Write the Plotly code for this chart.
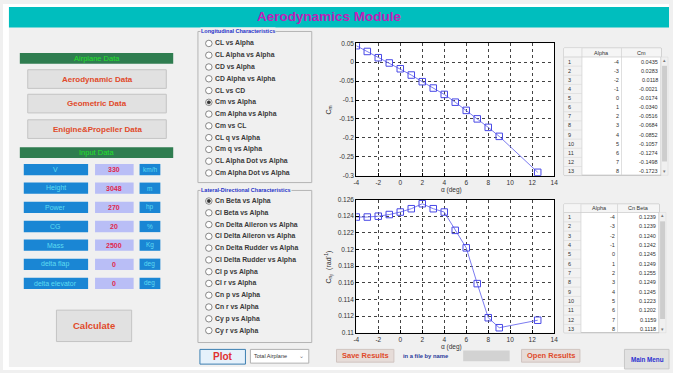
import plotly.graph_objects as go

W, H = 673, 373

# ---------------- data ----------------
alpha = [-4, -3, -2, -1, 0, 1, 2, 3, 4, 5, 6, 7, 8, 9, 12.5]
cm = [0.0435, 0.0283, 0.0118, -0.0021, -0.0174, -0.0340, -0.0516, -0.0684,
      -0.0852, -0.1057, -0.1274, -0.1498, -0.1723, -0.196, -0.291]
cn_beta = [0.1239, 0.1239, 0.1240, 0.1242, 0.1245, 0.1249, 0.1255, 0.1249,
           0.1245, 0.1223, 0.1202, 0.1159, 0.1118, 0.1106, 0.1115]

x_ticks = [-4, -2, 0, 2, 4, 6, 8, 10, 12, 14]
x_ticktext = ["-4", "-2", "0", "2", "4", "6", "8", "10", "12", "14"]
cm_ticks = [-0.3, -0.25, -0.2, -0.15, -0.1, -0.05, 0, 0.05]
cm_ticktext = ["-0.3", "-0.25", "-0.2", "-0.15", "-0.1", "-0.05", "0", "0.05"]
cn_ticks = [0.11, 0.112, 0.114, 0.116, 0.118, 0.12, 0.122, 0.124, 0.126]
cn_ticktext = ["0.11", "0.112", "0.114", "0.116", "0.118", "0.12", "0.122", "0.124", "0.126"]

input_labels = ["V", "Height", "Power", "CG", "Mass", "delta flap", "delta elevator"]
input_values = ["330", "3048", "270", "20", "2500", "0", "0"]
input_units = ["km/h", "m", "hp", "%", "Kg", "deg", "deg"]

airplane_buttons = ["Aerodynamic Data", "Geometric Data", "Enigine&Propeller Data"]

long_options = ["CL vs Alpha", "CL Alpha vs Alpha", "CD vs Alpha", "CD Alpha vs Alpha",
                "CL vs CD", "Cm vs Alpha", "Cm Alpha vs Alpha", "Cm vs CL",
                "CL q vs Alpha", "Cm q vs Alpha", "CL Alpha Dot vs Alpha",
                "Cm Alpha Dot vs Alpha"]
long_selected = "Cm vs Alpha"
lat_options = ["Cn Beta vs Alpha", "Cl Beta vs Alpha", "Cn Delta Aileron vs Alpha",
               "Cl Delta Aileron vs Alpha", "Cn Delta Rudder vs Alpha",
               "Cl Delta Rudder vs Alpha", "Cl p vs Alpha", "Cl r vs Alpha",
               "Cn p vs Alpha", "Cn r vs Alpha", "Cy p vs Alpha", "Cy r vs Alpha"]
lat_selected = "Cn Beta vs Alpha"

table_rows_shown = 13

# ---------------- helpers ----------------
FONT = "Liberation Sans, Arial, sans-serif"


def X(x):
    return x / W


def Y(y):
    return 1 - y / H


shapes = []
annotations = []


def rect(x0, y0, x1, y1, fill, line=None, lw=1):
    shapes.append(dict(type="rect", xref="paper", yref="paper",
                       x0=X(x0), x1=X(x1), y0=Y(y1), y1=Y(y0),
                       fillcolor=fill,
                       line=dict(color=line if line else fill, width=lw if line else 0),
                       layer="above"))


def hline(x0, x1, y, color, lw=1):
    shapes.append(dict(type="line", xref="paper", yref="paper",
                       x0=X(x0), x1=X(x1), y0=Y(y), y1=Y(y),
                       line=dict(color=color, width=lw), layer="above"))


def vline(x, y0, y1, color, lw=1):
    shapes.append(dict(type="line", xref="paper", yref="paper",
                       x0=X(x), x1=X(x), y0=Y(y0), y1=Y(y1),
                       line=dict(color=color, width=lw), layer="above"))


def circle(cx, cy, r, fill, line, lw=1):
    shapes.append(dict(type="circle", xref="paper", yref="paper",
                       x0=X(cx - r), x1=X(cx + r), y0=Y(cy + r), y1=Y(cy - r),
                       fillcolor=fill, line=dict(color=line, width=lw), layer="above"))


def text(x, y, s, size=8, color="#000", anchor="center", bold=False, bg=None, angle=0):
    annotations.append(dict(xref="paper", yref="paper", x=X(x), y=Y(y),
                            text=("<b>%s</b>" % s) if bold else s,
                            showarrow=False, xanchor=anchor, yanchor="middle",
                            textangle=angle,
                            font=dict(family=FONT, size=size, color=color),
                            bgcolor=bg, borderpad=0))


# ---------------- window frame ----------------
rect(0, 0, W, 3, "#FFFFFF")
rect(0, 0, 6, H, "#FFFFFF")
rect(0, 370, W, H, "#FFFFFF")
rect(6, 3, W, 24, "#00BEBE")
text(330, 13, "Aerodynamics Module", size=13.5, color="#C020B8", bold=True)

# ---------------- left panel ----------------
GREEN_BG = "#2F7D50"
GREEN_TX = "#22E02A"
rect(17, 50, 172, 61, GREEN_BG)
text(94.5, 55.5, "Airplane Data", size=7.5, color=GREEN_TX)

btn_top = [67, 92, 118]
for lbl, yt in zip(airplane_buttons, btn_top):
    rect(25, yt, 165, yt + 19, "#E1E1E1", "#C4C4C4")
    text(95, yt + 9.5, lbl, size=8, color="#E04A2A", bold=True)

rect(17, 146, 172, 157, GREEN_BG)
text(94.5, 151.5, "Input Data", size=7.5, color=GREEN_TX)

BLUE_BOX = "#1A86D4"
CYAN_TX = "#5EDCF2"
row_top = [163, 182, 201.5, 221, 240, 259.5, 279]
for lbl, val, unit, yt in zip(input_labels, input_values, input_units, row_top):
    rect(21, yt, 86, yt + 11.5, BLUE_BOX)
    text(53.5, yt + 5.8, lbl, size=7, color=CYAN_TX)
    rect(93, yt, 132, yt + 11.5, "#B9BEF6")
    text(112.5, yt + 5.8, val, size=7, color="#E0284E", bold=True)
    rect(138, yt, 159, yt + 11.5, BLUE_BOX)
    text(148.5, yt + 5.8, unit, size=6.5, color=CYAN_TX)

rect(54, 312, 130, 344, "#E1E1E1", "#C4C4C4")
text(92, 328, "Calculate", size=9.5, color="#E04A2A", bold=True)

# ---------------- radio group boxes ----------------
GROUP_LINE = "#B4B4B4"


def radio_group(y0, y1, title, options, selected, first_y, step):
    rect(197, y0, 312, y1, "rgba(0,0,0,0)", GROUP_LINE)
    text(199, y0, "<b>" + title + "</b>", size=5.5, color="#2530C8", anchor="left", bg="#F0F0F0")
    for i, opt in enumerate(options):
        cy = first_y + i * step
        circle(208, cy, 3.3, "#FFFFFF", "#6A6A6A", 0.8)
        if opt == selected:
            circle(208, cy, 1.7, "#333333", "#333333", 0.5)
        text(213.5, cy, opt, size=6.8, color="#3A3A3A", anchor="left", bold=True)


radio_group(28, 182, "Longitudinal Characteristics", long_options, long_selected, 40.2, 12.0)
radio_group(190, 345, "Lateral-Directional Characteristics", lat_options, lat_selected, 200.8, 12.0)

# Plot button and dropdown
rect(199, 352, 245, 367, "#E5F1FB", "#3C7FB1")
text(222, 359.5, "Plot", size=10, color="#E03030", bold=True)
rect(250, 352, 309, 366, "#FFFFFF", "#B0B0B0")
text(253, 359, "Total Airplane", size=5.5, color="#333", anchor="left")
text(302, 359, "⌄", size=6, color="#777")

# ---------------- bottom buttons ----------------
rect(337, 352, 395, 365, "#E6DCD8", "#D0C4C0")
text(366, 358.5, "Save Results", size=7.5, color="#E04A2A", bold=True)
text(403, 358.5, "in a file by name", size=5.8, color="#2A3A9A", anchor="left", bold=True)
rect(465, 353, 512, 364, "#D2D2D2")
rect(524, 352, 583, 365, "#E6DCD8", "#D0C4C0")
text(553.5, 358.5, "Open Results", size=7.5, color="#E04A2A", bold=True)
rect(628, 352, 673, 372, "#E1E1E1", "#C8C8C8")
text(651, 362, "Main Menu", size=6.3, color="#2A30D0", bold=True)


# ---------------- tables ----------------
def draw_table(x_cols, y_top, header_h, row_h, y_bot, col_name, values):
    x0, xa, xb, xc = x_cols
    rect(x0, y_top, xc, y_bot, "#FFFFFF", "#A8A8A8", 0.8)
    rect(x0, y_top, xa, y_bot, "#F2F2F2")
    rect(x0, y_top, xc, y_top + header_h, "#F5F5F5")
    hline(x0, xc, y_top + header_h, "#C8C8C8", 0.7)
    for xv in (xa, xb):
        vline(xv, y_top, y_bot, "#D0D0D0", 0.7)
    text((xa + xb) / 2, y_top + header_h / 2, "Alpha", size=5.5, color="#333")
    text((xb + xc) / 2, y_top + header_h / 2, col_name, size=5.5, color="#333")
    for i in range(table_rows_shown):
        ry = y_top + header_h + i * row_h
        if ry + row_h <= y_bot + 0.5:
            hline(x0, xa, ry + row_h, "#D6D6D6", 0.6)
        cy = ry + row_h / 2
        text(x0 + 3, cy, str(i + 1), size=5.5, color="#333", anchor="left")
        a = alpha[i]
        text(xb - 2, cy, ("%d" % a) if float(a).is_integer() else str(a), size=5.5,
             color="#333", anchor="right")
        text(xc - 2, cy, "%.4f" % values[i], size=5.5, color="#333", anchor="right")
    # scrollbar
    rect(xc, y_top + header_h, xc + 7, y_bot, "#F0F0F0", "#D8D8D8", 0.5)
    rect(xc + 1, y_top + header_h + 9, xc + 6, y_bot - 14, "#CDCDCD")
    text(xc + 3.5, y_top + header_h + 3, "▴", size=5, color="#777")
    text(xc + 3.5, y_bot - 4, "▾", size=5, color="#777")


draw_table((567, 585, 625, 665), 45, 9, 9.3, 174.5, "Cm", cm)
draw_table((567, 584, 621, 663), 204, 8.5, 9.5, 335, "Cn Beta", cn_beta)

# ---------------- plots ----------------
fig = go.Figure()
line_col = "#7C7CF0"
mk_col = "#4848E6"
fig.add_trace(go.Scatter(x=alpha, y=cm, mode="lines+markers",
                         line=dict(color=line_col, width=1),
                         marker=dict(symbol="square-open", size=6.5, color=mk_col,
                                     line=dict(width=1, color=mk_col)),
                         xaxis="x", yaxis="y", showlegend=False))
fig.add_trace(go.Scatter(x=alpha, y=cn_beta, mode="lines+markers",
                         line=dict(color=line_col, width=1),
                         marker=dict(symbol="square-open", size=6.5, color=mk_col,
                                     line=dict(width=1, color=mk_col)),
                         xaxis="x2", yaxis="y2", showlegend=False))

px0, px1 = 357, 557
common = dict(showgrid=True, gridcolor="#444444", griddash="dot", gridwidth=0.7,
              zeroline=False, showline=True, linecolor="#000", linewidth=1, mirror=True,
              ticks="inside", ticklen=3, tickcolor="#000",
              tickfont=dict(family=FONT, size=6.5, color="#333"))

fig.update_layout(
    width=W, height=H,
    margin=dict(l=0, r=0, t=0, b=0),
    paper_bgcolor="#F0F0F0",
    plot_bgcolor="#FFFFFF",
    xaxis=dict(domain=[X(px0), X(px1)], range=[-4, 14], tickvals=x_ticks,
               ticktext=x_ticktext, anchor="y", **common),
    yaxis=dict(domain=[Y(175), Y(40)], range=[-0.3, 0.05], tickvals=cm_ticks,
               ticktext=cm_ticktext, anchor="x", **common),
    xaxis2=dict(domain=[X(px0), X(px1)], range=[-4, 14], tickvals=x_ticks,
                ticktext=x_ticktext, anchor="y2", **common),
    yaxis2=dict(domain=[Y(335), Y(199.3)], range=[0.11, 0.126], tickvals=cn_ticks,
                ticktext=cn_ticktext, anchor="x2", **common),
    shapes=shapes,
    annotations=annotations,
)

# axis labels
lab_font = dict(family=FONT, size=6.5, color="#333")
fig.add_annotation(xref="paper", yref="paper", x=X(453), y=Y(190), text="α (deg)",
                   showarrow=False, xanchor="center", yanchor="middle", font=lab_font)
fig.add_annotation(xref="paper", yref="paper", x=X(453), y=Y(350), text="α (deg)",
                   showarrow=False, xanchor="center", yanchor="middle", font=lab_font)
fig.add_annotation(xref="paper", yref="paper", x=X(329), y=Y(108), text="C<sub>m</sub>",
                   textangle=-90, showarrow=False, xanchor="center", yanchor="middle",
                   font=dict(family=FONT, size=7, color="#333"))
fig.add_annotation(xref="paper", yref="paper", x=X(329), y=Y(268),
                   text="C<sub>n<sub>β</sub></sub>  (rad<sup>-1</sup>)",
                   textangle=-90, showarrow=False, xanchor="center", yanchor="middle",
                   font=dict(family=FONT, size=7, color="#333"))

fig.write_html("out.html", config={"displayModeBar": False})
